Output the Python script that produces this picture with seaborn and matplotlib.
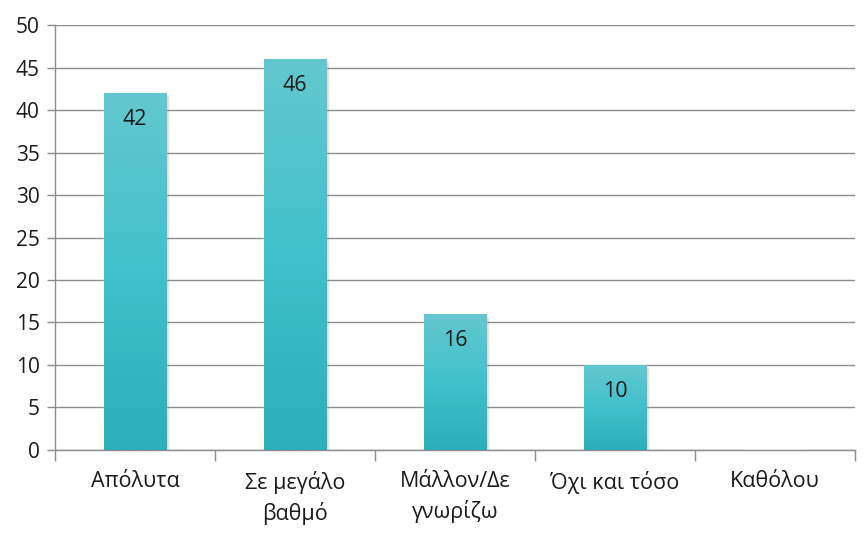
import matplotlib
matplotlib.use("Agg")
import matplotlib.pyplot as plt
import matplotlib.patches as mpatches
from matplotlib.colors import LinearSegmentedColormap
import seaborn as sns
import pandas as pd
import numpy as np

categories = ["Απόλυτα", "Σε μεγάλο\nβαθμό", "Μάλλον/Δε\nγνωρίζω", "Όχι και τόσο", "Καθόλου"]
values = [42, 46, 16, 10, 0]
y_ticks = [0, 5, 10, 15, 20, 25, 30, 35, 40, 45, 50]

sns.set_style("white")
plt.rcParams["font.family"] = ["Open Sans", "DejaVu Sans"]

df = pd.DataFrame({"category": categories, "value": values})

fig = plt.figure(figsize=(8.64, 5.35), dpi=100)
ax = fig.add_axes([0.0637, 0.159, 0.926, 0.794])

sns.barplot(data=df, x="category", y="value", color="#40C0C9", width=0.39,
            saturation=1, ax=ax, zorder=3)

# vertical gradient + soft shadow on each bar
cmap = LinearSegmentedColormap.from_list("teal", ["#64C7CF", "#40C1CB", "#2BAFB8"])
grad = np.linspace(0, 1, 256).reshape(-1, 1)
for patch in ax.patches:
    x0, y0 = patch.get_x(), patch.get_y()
    w, h = patch.get_width(), patch.get_height()
    if h <= 0:
        continue
    for i, a in enumerate([0.12, 0.09, 0.06]):
        sh = mpatches.Rectangle((x0 + 0.012 + i * 0.007, y0), w, h - 0.25 - i * 0.1,
                                facecolor="#555555", alpha=a, edgecolor="none", zorder=2)
        ax.add_patch(sh)
    im = ax.imshow(grad, cmap=cmap, aspect="auto", extent=[x0, x0 + w, y0, y0 + h],
                   origin="upper", zorder=4)
    im.set_clip_path(patch)
    ax.annotate(str(int(h)), (x0 + w / 2, y0 + h), xytext=(0, -19), textcoords="offset points",
                ha="center", va="center", fontsize=15.5, color="#1a1a1a", zorder=5)

ax.set_xlim(-0.5, len(categories) - 0.5)
ax.set_ylim(0, 50)
ax.set_yticks(y_ticks)
ax.set_xlabel("")
ax.set_ylabel("")

ax.yaxis.grid(True, color="#8C8C8C", linewidth=1.0, zorder=0)
ax.set_axisbelow(True)

for side in ["top", "right"]:
    ax.spines[side].set_visible(False)
for side in ["left", "bottom"]:
    ax.spines[side].set_color("#8C8C8C")
    ax.spines[side].set_linewidth(1.0)

ax.tick_params(axis="y", which="major", length=6, width=1, color="#8C8C8C", pad=5,
               labelsize=15, labelcolor="#1a1a1a", left=True)
ax.tick_params(axis="x", which="major", length=0, pad=15, labelsize=15.5, labelcolor="#1a1a1a")
ax.set_xticks(np.arange(-0.5, len(categories), 1.0), minor=True)
ax.tick_params(axis="x", which="minor", length=8, width=1, color="#8C8C8C", bottom=True)
for lbl in ax.get_xticklabels():
    lbl.set_linespacing(1.45)

fig.savefig("out.png", dpi=100)
